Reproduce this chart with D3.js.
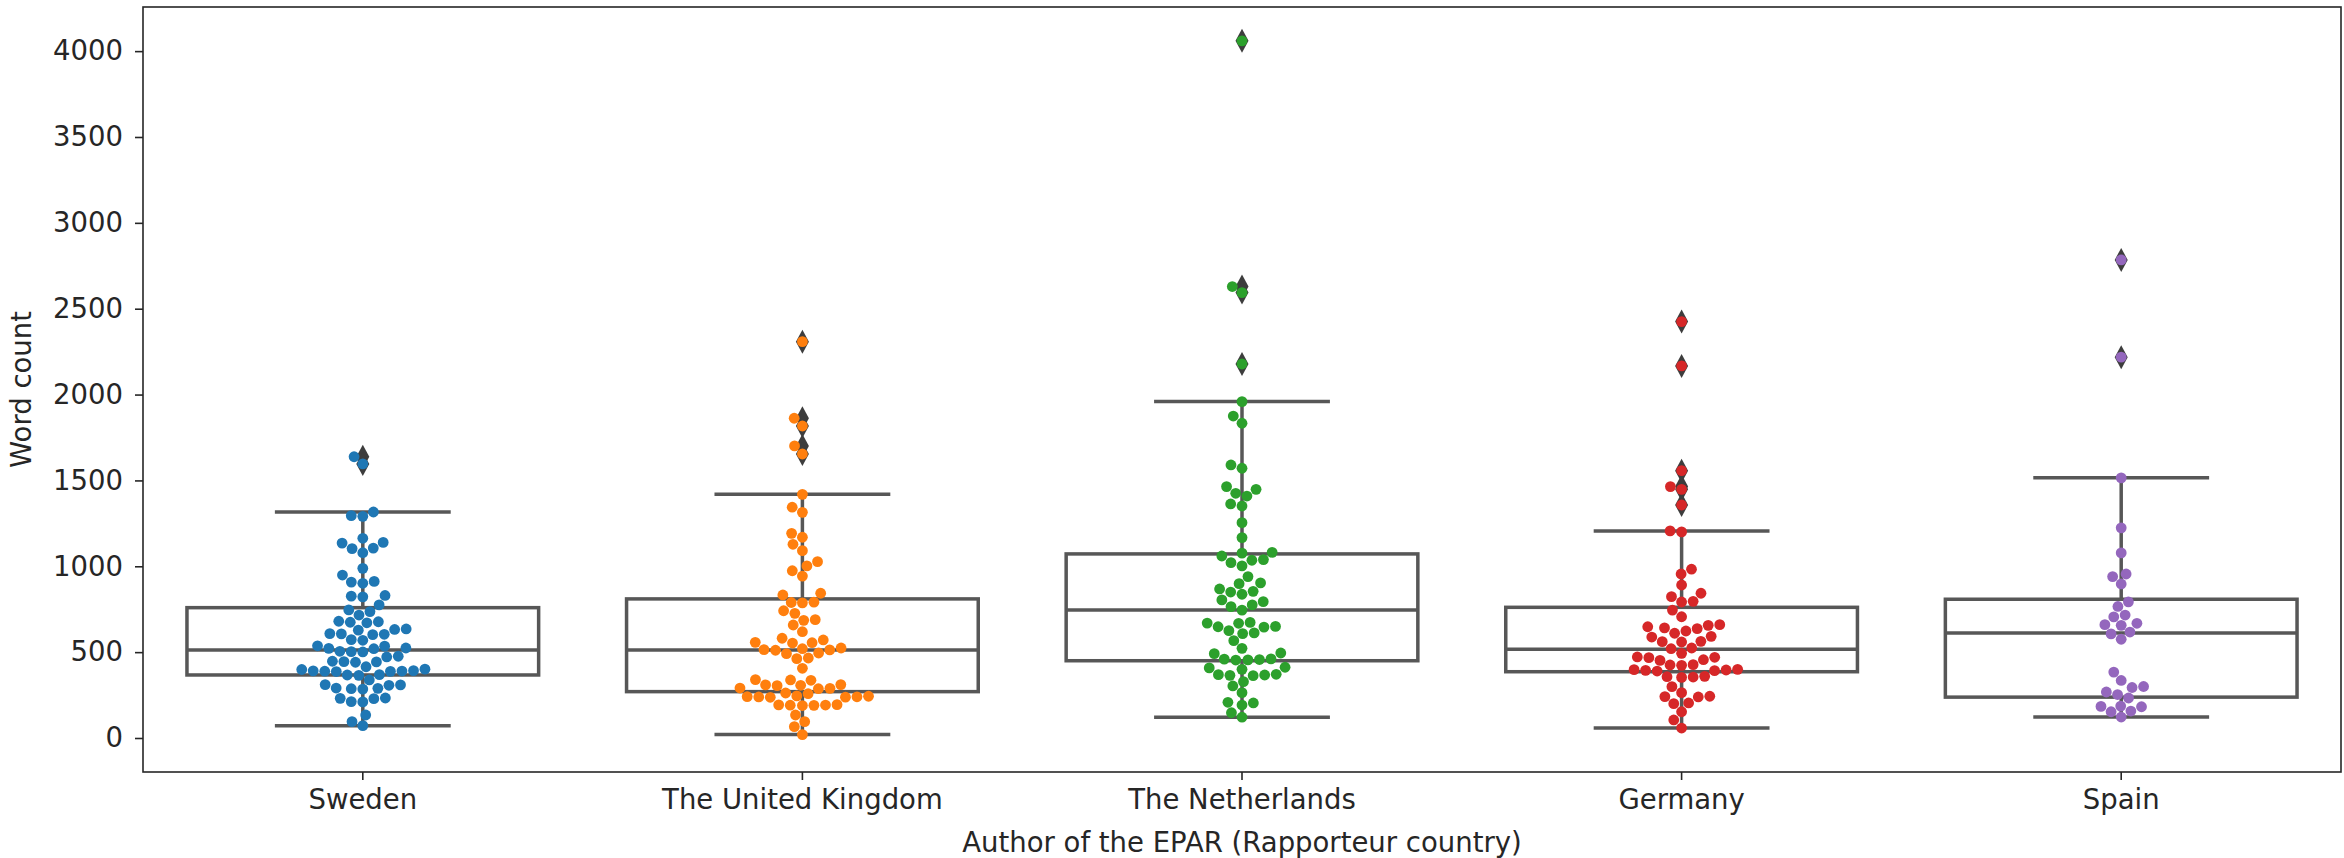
<!DOCTYPE html>
<html>
<head>
<meta charset="utf-8">
<script src="https://cdn.jsdelivr.net/npm/d3@7"></script>
<style>
  body { margin: 0; background: #fff; }
  text { font-family: "DejaVu Sans", sans-serif; fill: #262626; }
</style>
</head>
<body>
<div class="chart"></div>
<script>
// Countries on the x axis
var countries = ["Sweden", "The United Kingdom", "The Netherlands", "Germany", "Spain"];
var colors = ["#1f77b4", "#ff7f0e", "#2ca02c", "#d62728", "#9467bd"];

// Word counts per country
var sweden = [1638, 1596, 1316, 1295, 1291, 1163, 1139, 1135, 1106, 1103, 1079, 988,
  949, 912, 908, 901, 830, 826, 822, 775, 746, 736, 716, 680, 677, 674, 671,
  635, 632, 628, 608, 606, 604, 602, 573, 569, 537, 535, 524, 522, 520,
  505, 503, 501, 476, 472, 447, 445, 443, 441, 415, 401, 399, 392, 391, 390, 389, 388, 387,
  369, 367, 365, 338, 311, 309, 307, 291, 289, 287, 285, 233, 231, 229, 212, 210, 134, 95, 72];
var uk = [2308, 1862, 1817, 1701, 1654, 1419, 1344, 1314, 1192, 1169, 1128, 1091, 1027,
  1002, 974, 943, 843, 833, 791, 789, 787, 741, 726, 689, 685, 658, 619, 581, 571,
  557, 555, 553, 524, 520, 515, 513, 511, 495, 491, 466, 462, 406, 340, 338, 336,
  311, 309, 307, 305, 291, 289, 287, 262, 258, 245, 243, 241, 240, 239, 238, 237,
  194, 193, 192, 191, 190, 189, 134, 95, 66, 20];
var netherlands = [4060, 2629, 2594, 2178, 1959, 1875, 1833, 1590, 1571, 1464, 1448, 1425,
  1409, 1363, 1351, 1254, 1167, 1081, 1077, 1060, 1039, 1035, 1021, 1002, 940, 903, 899,
  868, 854, 850, 837, 804, 794, 775, 765, 745, 673, 669, 668, 650, 648, 646, 625, 612,
  608, 567, 522, 495, 491, 461, 459, 457, 455, 454, 412, 408, 400, 371, 369, 367, 365,
  363, 328, 303, 264, 208, 204, 192, 147, 121];
var germany = [2425, 2167, 1557, 1464, 1448, 1357, 1206, 1200, 983, 955, 891, 843, 823,
  796, 792, 745, 706, 660, 656, 648, 641, 637, 623, 610, 592, 588, 563, 561, 559, 524,
  520, 493, 472, 470, 468, 456, 452, 427, 425, 423, 400, 398, 396, 394, 392, 390, 359,
  357, 355, 353, 299, 264, 243, 241, 239, 204, 200, 153, 105, 58];
var spain = [2784, 2218, 1515, 1224, 1078, 955, 940, 897, 793, 766, 716, 705, 668, 660,
  656, 617, 606, 575, 384, 335, 300, 294, 268, 253, 233, 186, 184, 182, 157, 153, 122];

// Box statistics per country
var whiskerHi = [1316, 1419, 1959, 1206, 1515];
var q3 = [759, 810, 1072, 761, 808];
var median = [512, 513, 745, 517, 612];
var q1 = [367, 270, 450, 386, 238];
var whiskerLo = [72, 20, 121, 58, 122];

var yTicks = [0, 500, 1000, 1500, 2000, 2500, 3000, 3500, 4000];

var series = [sweden, uk, netherlands, germany, spain];

// Canvas
var outerWidth = 2344, outerHeight = 858;
var margin = {top: 7, right: 3, bottom: 86, left: 143};
var width = outerWidth - margin.left - margin.right;
var height = outerHeight - margin.top - margin.bottom;
var fontSize = "27.5px";

var svg = d3.select(".chart").append("svg")
  .attr("width", outerWidth)
  .attr("height", outerHeight);

var g = svg.append("g")
  .attr("transform", "translate(" + margin.left + "," + margin.top + ")");

var x = d3.scaleBand().domain(countries).range([0, width]).padding(0);
var y = d3.scaleLinear().domain([-198, 4257]).range([height, 0]);

var boxW = x.bandwidth() * 0.8;
var lineColor = "#575757";
var lw = 3.5;

// Boxes, whiskers, caps
countries.forEach(function(c, i) {
  var cx = x(c) + x.bandwidth() / 2;
  var bg = g.append("g");
  bg.append("line")
    .attr("x1", cx).attr("x2", cx)
    .attr("y1", y(q3[i])).attr("y2", y(whiskerHi[i]))
    .attr("stroke", lineColor).attr("stroke-width", lw);
  bg.append("line")
    .attr("x1", cx).attr("x2", cx)
    .attr("y1", y(q1[i])).attr("y2", y(whiskerLo[i]))
    .attr("stroke", lineColor).attr("stroke-width", lw);
  [whiskerHi[i], whiskerLo[i]].forEach(function(v) {
    bg.append("line")
      .attr("x1", cx - boxW / 4).attr("x2", cx + boxW / 4)
      .attr("y1", y(v)).attr("y2", y(v))
      .attr("stroke", lineColor).attr("stroke-width", lw);
  });
  bg.append("rect")
    .attr("x", cx - boxW / 2)
    .attr("y", y(q3[i]))
    .attr("width", boxW)
    .attr("height", y(q1[i]) - y(q3[i]))
    .attr("fill", "none")
    .attr("stroke", lineColor).attr("stroke-width", lw);
  bg.append("line")
    .attr("x1", cx - boxW / 2).attr("x2", cx + boxW / 2)
    .attr("y1", y(median[i])).attr("y2", y(median[i]))
    .attr("stroke", lineColor).attr("stroke-width", lw);

  // fliers as thin diamonds
  var fliers = series[i].filter(function(v) { return v > whiskerHi[i] || v < whiskerLo[i]; });
  bg.selectAll("path.flier").data(fliers).enter().append("path")
    .attr("class", "flier")
    .attr("d", "M0,-12L6.5,0L0,12L-6.5,0Z")
    .attr("transform", function(v) { return "translate(" + cx + "," + y(v) + ")"; })
    .attr("fill", "#3d3d3d");
});

// Beeswarm layout (same idea as seaborn: closest non-overlapping candidate)
var dot = 11;
function swarm(values, cx) {
  var pts = values.map(function(v) { return {v: v, y: y(v)}; })
    .sort(function(a, b) { return a.v - b.v; });
  var placed = [];
  pts.forEach(function(p) {
    var nb = placed.filter(function(q) { return Math.abs(q.y - p.y) < dot; });
    var cands = [cx];
    nb.forEach(function(q) {
      var dx = Math.sqrt(Math.max(dot * dot - (p.y - q.y) * (p.y - q.y), 0)) * 1.05;
      cands.push(q.x - dx);
      cands.push(q.x + dx);
    });
    cands.sort(function(a, b) { return Math.abs(a - cx) - Math.abs(b - cx); });
    p.x = cands.find(function(cxi) {
      return nb.every(function(q) {
        return (q.x - cxi) * (q.x - cxi) + (q.y - p.y) * (q.y - p.y) >= dot * dot * 0.999;
      });
    });
    placed.push(p);
  });
  return pts;
}

series.forEach(function(vals, i) {
  var cx = x(countries[i]) + x.bandwidth() / 2;
  g.append("g").selectAll("circle").data(swarm(vals, cx)).enter().append("circle")
    .attr("cx", function(d) { return d.x; })
    .attr("cy", function(d) { return d.y; })
    .attr("r", 5.4)
    .attr("fill", colors[i]);
});

// Axes
var yAxis = g.append("g")
  .call(d3.axisLeft(y).tickValues(yTicks).tickSize(8).tickPadding(12).tickFormat(d3.format("d")));
var xAxis = g.append("g")
  .attr("transform", "translate(0," + height + ")")
  .call(d3.axisBottom(x).tickSize(8).tickPadding(9));

[yAxis, xAxis].forEach(function(a) {
  a.select(".domain").remove();
  a.selectAll(".tick line").attr("stroke", "#262626").attr("stroke-width", 1.6);
  a.selectAll("text").style("font-size", fontSize).attr("fill", "#262626");
});

// Frame
g.append("rect")
  .attr("width", width).attr("height", height)
  .attr("fill", "none").attr("stroke", "#262626").attr("stroke-width", 1.6);

// Axis labels
svg.append("text")
  .attr("x", margin.left + width / 2)
  .attr("y", 852)
  .attr("text-anchor", "middle")
  .style("font-size", fontSize)
  .text("Author of the EPAR (Rapporteur country)");

svg.append("text")
  .attr("transform", "translate(21," + (margin.top + height / 2) + ") rotate(-90)")
  .attr("text-anchor", "middle")
  .attr("dominant-baseline", "central")
  .style("font-size", fontSize)
  .text("Word count");
</script>
</body>
</html>
